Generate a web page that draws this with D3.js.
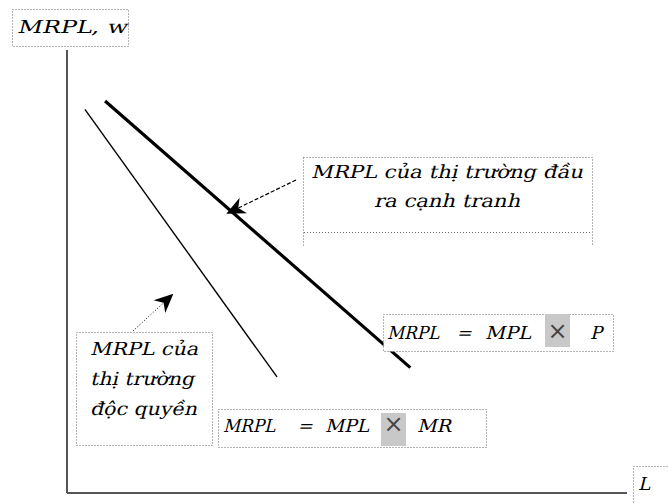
<!DOCTYPE html>
<html>
<head>
<meta charset="utf-8">
<script src="https://cdn.jsdelivr.net/npm/d3@7"></script>
<style>
  body { margin: 0; background: #fff; }
  text { font-family: "DejaVu Serif", "Liberation Serif", serif; }
</style>
</head>
<body>
<div id="chart"></div>
<script>
// axis domains (no ticks in the original)
const lDomain = [0, 100];
const wDomain = [0, 100];

// MRPL curves (L, w in domain units)
const competitiveMRPL = [{ L: 6.8, w: 88.5 }, { L: 61.3, w: 28.3 }];
const monopolyMRPL = [{ L: 3.2, w: 86.6 }, { L: 37.5, w: 26.2 }];

// labels
const yLabel = "MRPL,  w";
const xLabel = "L";
const competitiveLabel = ["MRPL của thị trường đầu", "ra cạnh tranh"];
const monopolyLabel = ["MRPL của", "thị trường", "độc quyền"];
const formulaP = ["MRPL", "=", "MPL", "×", "P"];
const formulaMR = ["MRPL", "=", "MPL", "×", "MR"];

const width = 668, height = 504;
const svg = d3.select("#chart").append("svg")
  .attr("width", width)
  .attr("height", height);

const x = d3.scaleLinear().domain(lDomain).range([67, 627]);
const y = d3.scaleLinear().domain(wDomain).range([493, 50]);

// arrow heads
const defs = svg.append("defs");
defs.append("marker")
  .attr("id", "head")
  .attr("viewBox", "0 0 10 10")
  .attr("refX", 9).attr("refY", 5)
  .attr("markerWidth", 19).attr("markerHeight", 19)
  .attr("markerUnits", "userSpaceOnUse")
  .attr("orient", "auto")
  .append("path")
  .attr("d", "M0,0.5 L10,5 L0,9.5 L3,5 Z")
  .attr("fill", "#000");

// axes (plain lines, no ticks)
svg.append("line")
  .attr("x1", x(0)).attr("x2", x(0))
  .attr("y1", y(100)).attr("y2", y(0))
  .attr("stroke", "#555").attr("stroke-width", 2);
svg.append("line")
  .attr("x1", x(0)).attr("x2", x(100))
  .attr("y1", y(0)).attr("y2", y(0))
  .attr("stroke", "#555").attr("stroke-width", 2);

const line = d3.line().x(d => x(d.L)).y(d => y(d.w));

svg.append("path").datum(competitiveMRPL)
  .attr("d", line)
  .attr("fill", "none").attr("stroke", "#000").attr("stroke-width", 3.2);
svg.append("path").datum(monopolyMRPL)
  .attr("d", line)
  .attr("fill", "none").attr("stroke", "#000").attr("stroke-width", 1.4);

// dotted boxes
function dotBox(x0, y0, w, h) {
  svg.append("rect")
    .attr("x", x0 + 0.5).attr("y", y0 + 0.5)
    .attr("width", w).attr("height", h)
    .attr("fill", "#fff")
    .attr("stroke", "#666").attr("stroke-width", 1)
    .attr("stroke-dasharray", "1,2");
}

// slanted text: upright face + skew, so the Vietnamese marks stay in one font
function label(xp, yp, str, len, anchor) {
  const t = svg.append("text")
    .attr("transform", `translate(${xp},${yp}) skewX(-14)`)
    .attr("font-size", 18)
    .attr("fill", "#000")
    .attr("text-anchor", anchor || "start")
    .text(str);
  if (len) t.attr("textLength", len).attr("lengthAdjust", "spacingAndGlyphs");
  return t;
}

// y label
dotBox(12, 9, 116, 37);
label(17, 33, yLabel, 110);

// x label (box runs off the edge)
dotBox(633, 466, 60, 60);
label(638, 490, xLabel, 12);

// competitive annotation
svg.append("line")
  .attr("x1", 296).attr("y1", 180)
  .attr("x2", 228).attr("y2", 213)
  .attr("stroke", "#000").attr("stroke-width", 1.2)
  .attr("stroke-dasharray", "4,2")
  .attr("marker-end", "url(#head)");
dotBox(303, 157, 289, 88);
svg.append("line")
  .attr("x1", 304).attr("x2", 591).attr("y1", 232.5).attr("y2", 232.5)
  .attr("stroke", "#666").attr("stroke-dasharray", "1,2");
svg.append("rect").attr("x", 304).attr("y", 234).attr("width", 288).attr("height", 12).attr("fill", "#fff");
label(311, 178, competitiveLabel[0], 272);
label(447, 207, competitiveLabel[1], 146, "middle");

// monopoly annotation
svg.append("line")
  .attr("x1", 133).attr("y1", 331)
  .attr("x2", 172).attr("y2", 295)
  .attr("stroke", "#000").attr("stroke-width", 1)
  .attr("stroke-dasharray", "1,2")
  .attr("marker-end", "url(#head)");
dotBox(76, 332, 136, 113);
label(90, 355, monopolyLabel[0], 108);
label(90, 385, monopolyLabel[1], 104);
label(90, 415, monopolyLabel[2], 107);

// formula boxes
function formula(parts, bx, by, bw, bh, base, xs, lens, gray) {
  dotBox(bx, by, bw, bh);
  svg.append("rect")
    .attr("x", gray[0]).attr("y", gray[1])
    .attr("width", gray[2]).attr("height", gray[3])
    .attr("fill", "#c8c8c8");
  parts.forEach((p, i) => {
    const mid = i === 1 || i === 3;
    const t = label(xs[i], base, p, lens[i], mid ? "middle" : "start");
    if (i === 3) {
      t.attr("transform", `translate(${xs[i]},${base})`)
        .attr("font-family", "DejaVu Sans")
        .attr("font-size", 24).attr("fill", "#444");
    }
  });
}

formula(formulaP, 383, 314, 230, 37, 339,
  [387, 464, 485, 557.5, 590], [52, null, 46, null, 12],
  [545, 314, 25, 33]);

formula(formulaMR, 218, 409, 268, 38, 432,
  [223, 305, 325, 393.5, 417], [52, null, 44, null, 34],
  [381, 413, 25, 33]);
</script>
</body>
</html>
